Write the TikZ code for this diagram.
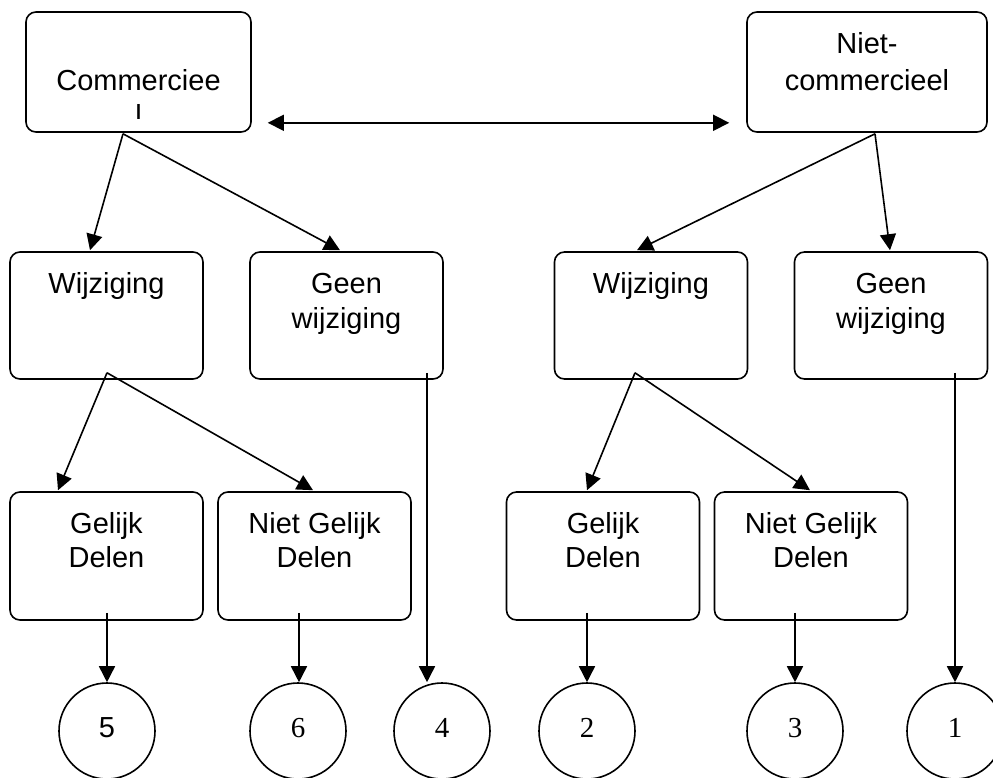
\documentclass[tikz,border=0pt]{standalone}
\usepackage{fontspec}
\setmainfont{Liberation Sans}
\newfontfamily\numserif{Liberation Serif}
\usetikzlibrary{arrows.meta}
\begin{document}
\begin{tikzpicture}[x=1pt,y=-1pt,
  box/.style={draw,line width=1.6pt,rounded corners=10pt,minimum width=193pt,minimum height=127pt,inner sep=0pt},
  circ/.style={draw,circle,line width=1.6pt,minimum size=96pt,inner sep=0pt},
  txt/.style={anchor=base,inner sep=0pt,font=\fontsize{29}{35}\selectfont},
  num/.style={anchor=base,inner sep=0pt,font=\fontsize{29}{35}\selectfont\numserif},
  arr/.style={line width=1.6pt,-{Triangle[length=16pt,width=16pt]}},
  darr/.style={line width=1.6pt,{Triangle[length=16pt,width=16pt]}-{Triangle[length=16pt,width=16pt]}}]
\useasboundingbox (0,0) rectangle (993,777);
\fill[white] (0,0) rectangle (993,777);

% top boxes
\node[box,minimum width=225pt,minimum height=120pt] (com) at (138.5,72) {};
\node[box,minimum width=240pt,minimum height=120pt] (niet) at (867,72) {};
\node[txt] (tcom1) at (138.5,90.5) {Commerciee};
\begin{scope}
  \clip (26,12) rectangle (251,118);
  \node[txt] (tcom2) at (138.5,125.5) {l};
\end{scope}
\node[txt] (tniet1) at (867,53) {Niet-};
\node[txt] (tniet2) at (867,90) {commercieel};

% middle boxes
\node[box] (wL) at (106.5,315.5) {};
\node[box] (gwL) at (346.5,315.5) {};
\node[box] (wR) at (651,315.5) {};
\node[box] (gwR) at (891,315.5) {};
\node[txt] (twL) at (106.5,293) {Wijziging};
\node[txt] (tgwL1) at (346.5,293) {Geen};
\node[txt] (tgwL2) at (346.5,328) {wijziging};
\node[txt] (twR) at (651,293) {Wijziging};
\node[txt] (tgwR1) at (891,293) {Geen};
\node[txt] (tgwR2) at (891,328) {wijziging};

% lower boxes
\node[box,minimum height=128pt] (gdL) at (106.5,556) {};
\node[box,minimum height=128pt] (ngdL) at (314.5,556) {};
\node[box,minimum height=128pt] (gdR) at (603,556) {};
\node[box,minimum height=128pt] (ngdR) at (811,556) {};
\node[txt] (tgdL1) at (106.5,533) {Gelijk};
\node[txt] (tgdL2) at (106.5,567) {Delen};
\node[txt] (tngdL1) at (314.5,533) {Niet Gelijk};
\node[txt] (tngdL2) at (314.5,567) {Delen};
\node[txt] (tgdR1) at (603,533) {Gelijk};
\node[txt] (tgdR2) at (603,567) {Delen};
\node[txt] (tngdR1) at (811,533) {Niet Gelijk};
\node[txt] (tngdR2) at (811,567) {Delen};

% circles
\node[circ] (c5) at (107,731) {};
\node[circ] (c6) at (298,731) {};
\node[circ] (c4) at (442,731) {};
\node[circ] (c2) at (587,731) {};
\node[circ] (c3) at (795,731) {};
\node[circ] (c1) at (955,731) {};
\node[txt] (t5) at (107,737) {5};
\node[num] (t6) at (298,737) {6};
\node[num] (t4) at (442,737) {4};
\node[num] (t2) at (587,737) {2};
\node[num] (t3) at (795,737) {3};
\node[num] (t1) at (955,737) {1};

% connectors
\draw[darr] ([xshift=16pt,yshift=10pt]com.south east) -- ([xshift=-17pt,yshift=10pt]niet.south west);

\coordinate (comout) at ([xshift=-15.5pt,yshift=-1pt]com.south);
\draw[arr] (comout) -- ([xshift=-16.5pt,yshift=1pt]wL.north);
\draw[arr] (comout) -- ([xshift=-6.5pt,yshift=1pt]gwL.north);

\coordinate (nietout) at ([xshift=8pt,yshift=-1pt]niet.south);
\draw[arr] (nietout) -- ([xshift=-14pt,yshift=1pt]wR.north);
\draw[arr] (nietout) -- ([xshift=-1pt,yshift=1pt]gwR.north);

\coordinate (wLout) at ([xshift=0.5pt,yshift=7pt]wL.south);
\draw[arr] (wLout) -- ([xshift=-48.5pt,yshift=1pt]gdL.north);
\draw[arr] (wLout) -- ([xshift=-1.5pt,yshift=1pt]ngdL.north);

\coordinate (wRout) at ([xshift=-16pt,yshift=7pt]wR.south);
\draw[arr] (wRout) -- ([xshift=-16pt,yshift=1pt]gdR.north);
\draw[arr] (wRout) -- ([xshift=-1pt,yshift=1pt]ngdR.north);

\coordinate (gwLout) at ([xshift=80.5pt,yshift=7pt]gwL.south);
\draw[arr] (gwLout) -- (gwLout |- c4.north);
\coordinate (gwRout) at ([xshift=64pt,yshift=7pt]gwR.south);
\draw[arr] (gwRout) -- (c1.north);

\draw[arr] ([xshift=0.5pt,yshift=8pt]gdL.south) -- (c5.north);
\draw[arr] ([xshift=-15.5pt,yshift=8pt]ngdL.south) -- ([xshift=1pt]c6.north);
\draw[arr] ([xshift=-16pt,yshift=8pt]gdR.south) -- (c2.north);
\draw[arr] ([xshift=-16pt,yshift=8pt]ngdR.south) -- (c3.north);
\end{tikzpicture}
\end{document}
